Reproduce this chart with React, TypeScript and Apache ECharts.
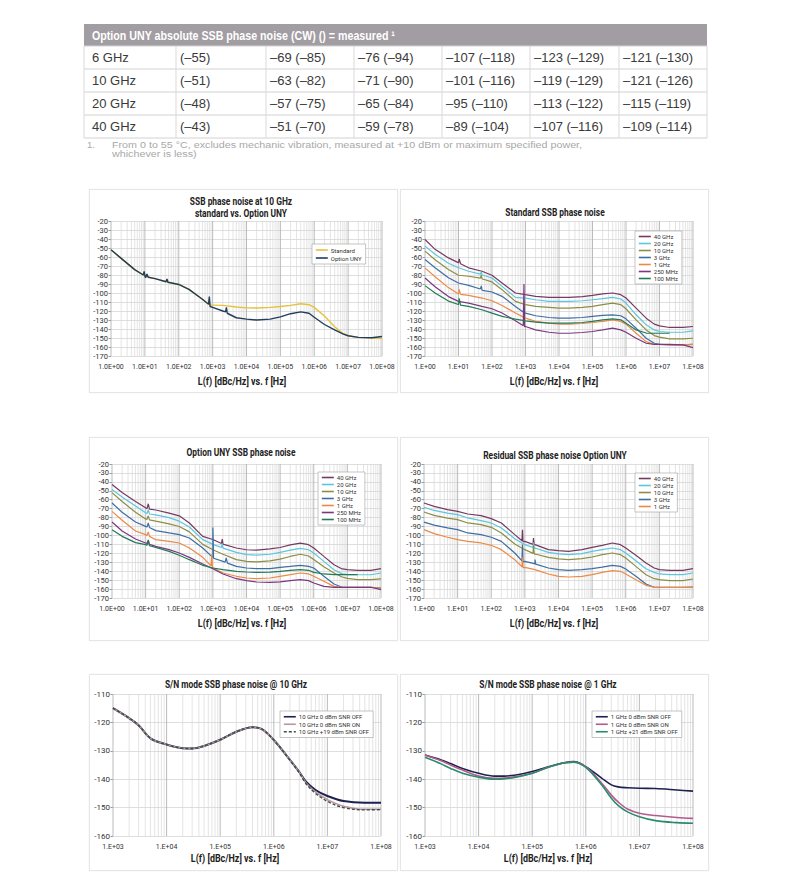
import React, { useEffect, useRef } from 'react';
import * as echarts from 'echarts';

// ---------- table data ----------
const tableTitle = 'Option UNY absolute SSB phase noise (CW) () = measured ¹';
const tableCarriers = ['6 GHz', '10 GHz', '20 GHz', '40 GHz'];
const tableValues = [
  ['(–55)', '–69 (–85)', '–76 (–94)', '–107 (–118)', '–123 (–129)', '–121 (–130)'],
  ['(–51)', '–63 (–82)', '–71 (–90)', '–101 (–116)', '–119 (–129)', '–121 (–126)'],
  ['(–48)', '–57 (–75)', '–65 (–84)', '–95 (–110)', '–113 (–122)', '–115 (–119)'],
  ['(–43)', '–51 (–70)', '–59 (–78)', '–89 (–104)', '–107 (–116)', '–109 (–114)'],
];
const footnoteNum = '1.';
const footnoteLines = [
  'From 0 to 55 °C, excludes mechanic vibration, measured at +10 dBm or maximum specified power,',
  'whichever is less)',
];

// ---------- chart texts ----------
const titles = [
  ['SSB phase noise at 10 GHz', 'standard vs. Option UNY'],
  ['Standard SSB phase noise'],
  ['Option UNY SSB phase noise'],
  ['Residual SSB phase noise Option UNY'],
  ['S/N mode SSB phase noise @ 10 GHz'],
  ['S/N mode SSB phase noise @ 1 GHz'],
];
const xAxisTitle = 'L(f) [dBc/Hz] vs. f [Hz]';
const carrierNames7 = ['40 GHz', '20 GHz', '10 GHz', '3 GHz', '1 GHz', '250 MHz', '100 MHz'];
const carrierNames5 = ['40 GHz', '20 GHz', '10 GHz', '3 GHz', '1 GHz'];
const sn10Names = ['10 GHz 0 dBm SNR OFF', '10 GHz 0 dBm SNR ON', '10 GHz +19 dBm SNR OFF'];
const sn1Names = ['1 GHz 0 dBm SNR OFF', '1 GHz 0 dBm SNR ON', '1 GHz +21 dBm SNR OFF'];

// ---------- frequency grids (Hz) ----------
const F = [1, 2, 5, 10, 20, 50, 100, 200, 500, 1e3, 2e3, 5e3, 1e4, 2e4, 5e4, 1e5, 2e5, 4e5, 7e5, 1e6, 2e6, 4e6, 7e6, 1e7, 2e7, 5e7, 1e8];
const F_SN = [1e3, 2e3, 3e3, 5e3, 1e4, 2e4, 3e4, 5e4, 1e5, 2e5, 4e5, 6e5, 1e6, 2e6, 3e6, 4e6, 6e6, 1e7, 2e7, 5e7, 1e8];

// ---------- chart 1: 10 GHz standard vs UNY ----------
const c1Standard = [-52, -61.5, -74, -81, -84, -88, -90.5, -96, -107, -113.5, -113.7, -115.5, -116.5, -116.7, -116, -115, -113.7, -112, -113, -116, -125.5, -137.5, -145, -147.5, -149.3, -150, -150.5];
const c1Uny = [-52, -61.5, -74, -81, -84, -88, -90.5, -96, -107, -116, -120, -127.5, -129, -130, -129, -126.5, -123, -121, -122.5, -127, -135, -141, -145.5, -147.5, -149.3, -149.7, -148.3];
const c1StandardSpikes = [[760, -112.5], [790, -107], [830, -113.5]];
const c1UnySpikes = [[9, -80], [9.5, -76], [10.5, -83], [11.5, -79], [12.5, -82.5], [42, -87.5], [45, -84.5], [48, -88], [760, -112.5], [800, -104], [840, -115], [2400, -121], [2550, -116], [2700, -122.5]];

// ---------- chart 2: standard SSB ----------
const s40 = [-40.5, -51.5, -61, -66.5, -72, -75.8, -80.3, -88.9, -100, -101.9, -103.7, -104.9, -104.9, -104.9, -104, -102.6, -101, -100, -101.9, -105.6, -116.8, -128, -134.6, -136.5, -138.3, -138.3, -137.2];
const s20 = [-47.9, -57, -67, -72, -75.8, -79.5, -83.3, -92.6, -104.9, -105.6, -107.5, -109.3, -109.3, -109.3, -108.6, -107.5, -106.3, -104.9, -106.7, -111.2, -124.2, -135.4, -141, -142.8, -143.6, -143.6, -142];
const s10 = [-53.5, -63, -74, -80.3, -81.4, -84, -87.7, -96.3, -109.3, -113, -114.9, -116, -116.8, -116.8, -116, -114.9, -113, -111.2, -113, -117.5, -129.8, -141, -147.3, -149.1, -151, -151, -150.3];
const s3 = [-62.8, -72, -83, -88.9, -91.5, -96.3, -98.9, -103.7, -114.9, -122.3, -125.3, -127.2, -127.9, -127.9, -127.2, -126, -124.9, -124.2, -125.3, -128.7, -139.1, -150.3, -155.8, -157, -157.7, -157.7, -157];
const s1 = [-72.1, -82, -94, -101.1, -102.6, -105.6, -108.6, -113.8, -122.3, -127.9, -131.6, -133.5, -134.6, -134.6, -133.9, -132.8, -131.6, -129.8, -131.6, -134.6, -144.7, -154, -157, -157, -157.7, -157.7, -157];
const s250 = [-83.3, -93, -104, -109.3, -111.2, -114.9, -117.5, -122.3, -130.9, -137.2, -141, -143.6, -144.7, -144.7, -143.9, -142.8, -141, -139.1, -141, -143.6, -150.3, -155.8, -157, -157, -157, -157.7, -160.7];
const s100 = [-91.8, -100, -109, -113, -114.9, -118.6, -122.3, -126, -129, -130.9, -132.4, -133.5, -133.5, -133.5, -132.8, -131.6, -129.8, -128.7, -129.8, -133.5, -141, -144.5, -144.7, -144.7, -144.7, null, null];
const s40Spikes = [[9.5, -66], [10.5, -62], [11.5, -67.5]];
const s20Spikes = [[45, -79], [48, -76.5], [52, -80]];
const s10Spikes = [[45, -83.5], [48, -80], [52, -84.5]];
const s3Spikes = [[45, -95.5], [48, -92], [52, -97], [850, -121], [900, -116], [950, -122]];
const s1Spikes = [[9.5, -100.5], [10.5, -96], [11.5, -101.5]];
const s250Spikes = [[860, -136.5], [900, -90], [940, -137.5]];
const s100Spikes = [[9.5, -112.5], [10.5, -106], [11.5, -113.5]];

// ---------- chart 3: Option UNY SSB ----------
const u40 = [-43, -52, -62, -69, -71.5, -75, -78, -86, -101, -104.5, -109.6, -114, -116, -116.5, -115, -113.5, -110.5, -108.5, -110.3, -114, -123.4, -132.7, -137.5, -138.3, -139, -139, -137.2];
const u20 = [-48.5, -57, -67, -74.5, -77, -80, -84, -90.5, -104.7, -110, -114, -119, -121.5, -122, -121, -119, -116.5, -114.5, -116, -119.6, -129, -138.3, -143, -143.9, -144, -144, -142];
const u10 = [-52, -62, -74, -81.5, -84, -87, -90, -96, -110, -116, -121, -127, -129, -129.5, -128.5, -126.5, -123.5, -121, -123, -127, -135, -142, -146.5, -148, -149.5, -149.5, -148.5];
const u3 = [-63.7, -74, -85, -89.8, -94.6, -97.2, -99.1, -102.8, -114, -124.5, -129, -134.6, -136.4, -137.2, -137.2, -135.7, -134.6, -133.4, -134.6, -136.4, -145.7, -154.3, -158, -158, -158, -158, -158.8];
const u1 = [-73, -83, -95, -99, -104.7, -106.6, -108.4, -114, -124.5, -136.4, -142, -145.7, -147.6, -148.4, -147.6, -145.7, -143.9, -142, -143.1, -145.7, -151.3, -157, -158, -158, -158, -158, -158.8];
const u250 = [-85, -95, -104, -108.4, -112.2, -115.9, -119.6, -124.5, -132, -137.2, -143.1, -148.4, -150.6, -152.1, -152.5, -152, -150.6, -149.5, -150.6, -153.2, -157, -158, -158, -158, -158, -158, -160.7];
const u100 = [-93.5, -101, -108, -110.3, -113.3, -117.8, -122.2, -127.1, -133.4, -136.4, -138.3, -140.1, -140.9, -141.3, -141, -140.1, -139, -138.3, -139, -141.3, -143.1, -143.9, -143.9, -143.9, -143.9, null, null];
const u40Spikes = [[11, -70], [12, -64.5], [13, -70.5], [1800, -109], [1900, -104], [2100, -110]];
const u20Spikes = [[11, -75.5], [12, -71], [13, -76], [1800, -113.5], [1900, -109], [2100, -114.5]];
const u10Spikes = [[11, -82], [12, -78], [13, -82.5]];
const u3Spikes = [[11, -90.5], [12, -86], [13, -91], [950, -124], [1000, -91], [1050, -125.5], [2300, -130], [2500, -125], [2700, -131]];
const u1Spikes = [[11, -100], [12, -96], [13, -101], [880, -134], [930, -121], [970, -136]];
const u250Spikes = [[11, -109], [12, -105], [13, -110]];
const u100Spikes = [[11, -111], [12, -106], [13, -111.5]];

// ---------- chart 4: residual SSB ----------
const r40 = [-63.7, -67.5, -71, -73, -76, -77.8, -81.2, -86, -99.1, -106.6, -110.3, -115.9, -117, -117.8, -115.9, -113.3, -111, -108.4, -110.3, -114, -122.2, -130.8, -136.4, -138.3, -139, -139, -137.2];
const r20 = [-68.5, -72, -75, -76.7, -80.4, -83.4, -86, -91.6, -103.6, -110.3, -114, -118.9, -120.7, -121.5, -120.4, -117.8, -115.9, -114, -115.9, -119.6, -128.2, -137.2, -141.3, -143.1, -143.9, -143.9, -142];
const r10 = [-73.7, -77.5, -80.5, -82.3, -86, -87.9, -90.9, -97.2, -109.6, -115.9, -120.7, -124.5, -126.3, -127.1, -126, -124.1, -121.5, -119.6, -121.5, -125.2, -134.6, -143.9, -148.4, -149.5, -150.6, -150.6, -148.7];
const r3 = [-85, -88.5, -91.5, -93.5, -97.2, -99.1, -102, -106.6, -119.6, -129, -131.9, -136.4, -138.3, -139, -138.3, -137.2, -135.4, -133.4, -134.6, -137.6, -145.7, -154.3, -158, -158, -158, -158, -157.7];
const r1 = [-93.5, -98, -102, -104.7, -106.6, -108.4, -111, -115.9, -127.1, -135.7, -138.3, -143.1, -145.7, -146.5, -145.7, -143.9, -141.3, -139.4, -140.1, -143.1, -149.5, -155.8, -158, -158, -158, -158, -158];
const r40Spikes = [[820, -106], [850, -93.5], [880, -107], [1750, -110], [1800, -103], [1900, -110.5]];
const r20Spikes = [[1750, -113.5], [1800, -108], [1900, -114.5]];
const r10Spikes = [[1750, -120], [1800, -111], [1900, -121]];
const r3Spikes = [[820, -128.5], [850, -110], [880, -129.5], [1900, -131.5], [2000, -127], [2100, -132]];
const r1Spikes = [[820, -135], [850, -124], [880, -136]];

// ---------- charts 5 & 6: S/N mode ----------
const sn10Off = [-115, -118.5, -121, -125.6, -127.8, -129.1, -129.2, -128.3, -126.1, -123.3, -121.7, -122.4, -126.2, -133.2, -137.5, -140.9, -143.8, -145.9, -147.7, -148.3, -148.3];
const sn10On = [-115, -118.5, -121, -125.6, -127.8, -129.1, -129.2, -128.3, -126.1, -123.3, -121.7, -122.4, -126.2, -133.2, -137.6, -141.3, -144.5, -147.2, -149.5, -150.6, -150.6];
const sn10P19 = [-115, -118.5, -121, -125.6, -127.8, -129.1, -129.2, -128.3, -126.1, -123.3, -121.7, -122.4, -126.2, -133.3, -137.8, -141.6, -145, -147.8, -150, -150.8, -150.7];
const sn1Off = [-131.5, -133.2, -134.5, -136.2, -137.9, -138.9, -138.9, -138.5, -137.3, -135.6, -134.2, -133.8, -135.6, -139.7, -142, -142.7, -143, -143.2, -143.3, -143.8, -144.2];
const sn1On = [-131.5, -133.5, -135, -136.8, -138.9, -139.7, -139.6, -139.1, -137.9, -135.8, -134.2, -134, -135.6, -141.5, -145.6, -148, -150.5, -152, -152.8, -153.5, -153.8];
const sn1P21 = [-132.3, -134.6, -136.2, -137.9, -139.3, -140, -139.9, -139.3, -137.9, -135.8, -134.2, -134, -135.8, -142.1, -146.7, -149.2, -151.5, -153.2, -154.6, -155.3, -155.5];

// ---------- styling ----------
const FONT = 'Roboto, "Liberation Sans", sans-serif';
const TFONT = '"Liberation Sans", Arial, sans-serif';
const COL = {
  std: '#e6c13c', uny: '#223d59',
  g40: '#763a62', g20: '#5cc6de', g10: '#8d8d45', g3: '#3f6ea3', g1: '#ec8a45', m250: '#7b3880', m100: '#237a57',
  snNavy: '#1d2050', snPinkGray: '#b9959f', snDash: '#3b4d47', snPink: '#b25c8e', snGreen: '#2a8c6c',
};

const GRIDS = [
  { left: 111, top: 221, width: 271, height: 135 },
  { left: 425, top: 221, width: 268, height: 135 },
  { left: 112, top: 464, width: 269, height: 134 },
  { left: 424, top: 464, width: 269, height: 134 },
  { left: 113, top: 694, width: 268, height: 142 },
  { left: 425, top: 694, width: 268, height: 142 },
];
const PANELS = [
  [89, 189, 309, 204], [400, 189, 309, 204],
  [89, 437, 309, 204], [400, 437, 309, 204],
  [89, 674, 309, 197], [400, 674, 309, 197],
];

function pairs(xs: number[], ys: (number | null)[], extra: number[][] = []) {
  const out: number[][] = [];
  xs.forEach((x, i) => { if (ys[i] != null) out.push([x, ys[i] as number]); });
  return out.concat(extra).sort((a, b) => a[0] - b[0]);
}

function gridLineData(e0: number, e1: number, yMin: number) {
  const out: number[][] = [];
  for (let e = e0; e < e1; e++) for (let m = 1; m < 10; m++) out.push([m * Math.pow(10, e), yMin, m === 1 ? 1 : 0]);
  out.push([Math.pow(10, e1), yMin, 1]);
  return out;
}

type SDef = { name: string; color: string; x: number[]; y: (number | null)[]; sp?: number[][]; w?: number; dash?: boolean };
type CDef = { e0: number; e1: number; yMin: number; yMax: number; fmt: string; smooth: number | boolean; series: SDef[]; legend: { left: number; top: number; names: string[]; lh: number } };

const CHARTS: CDef[] = [
  {
    e0: 0, e1: 8, yMin: -170, yMax: -20, fmt: '1.0E+', smooth: false,
    series: [
      { name: 'Standard', color: COL.std, x: F, y: c1Standard, sp: c1StandardSpikes, w: 1.4 },
      { name: 'Option UNY', color: COL.uny, x: F, y: c1Uny, sp: c1UnySpikes, w: 1.4 },
    ],
    legend: { left: 312, top: 244, names: ['Standard', 'Option UNY'], lh: 8 },
  },
  {
    e0: 0, e1: 8, yMin: -170, yMax: -20, fmt: '1.E+', smooth: false,
    series: [
      { name: '40 GHz', color: COL.g40, x: F, y: s40, sp: s40Spikes },
      { name: '20 GHz', color: COL.g20, x: F, y: s20, sp: s20Spikes },
      { name: '10 GHz', color: COL.g10, x: F, y: s10, sp: s10Spikes },
      { name: '3 GHz', color: COL.g3, x: F, y: s3, sp: s3Spikes },
      { name: '1 GHz', color: COL.g1, x: F, y: s1, sp: s1Spikes },
      { name: '250 MHz', color: COL.m250, x: F, y: s250, sp: s250Spikes },
      { name: '100 MHz', color: COL.m100, x: F, y: s100, sp: s100Spikes },
    ],
    legend: { left: 635, top: 231, names: carrierNames7, lh: 7 },
  },
  {
    e0: 0, e1: 8, yMin: -170, yMax: -20, fmt: '1.0E+', smooth: false,
    series: [
      { name: '40 GHz', color: COL.g40, x: F, y: u40, sp: u40Spikes },
      { name: '20 GHz', color: COL.g20, x: F, y: u20, sp: u20Spikes },
      { name: '10 GHz', color: COL.g10, x: F, y: u10, sp: u10Spikes },
      { name: '3 GHz', color: COL.g3, x: F, y: u3, sp: u3Spikes },
      { name: '1 GHz', color: COL.g1, x: F, y: u1, sp: u1Spikes },
      { name: '250 MHz', color: COL.m250, x: F, y: u250, sp: u250Spikes },
      { name: '100 MHz', color: COL.m100, x: F, y: u100, sp: u100Spikes },
    ],
    legend: { left: 318, top: 472, names: carrierNames7, lh: 7 },
  },
  {
    e0: 0, e1: 8, yMin: -170, yMax: -20, fmt: '1.E+', smooth: false,
    series: [
      { name: '40 GHz', color: COL.g40, x: F, y: r40, sp: r40Spikes },
      { name: '20 GHz', color: COL.g20, x: F, y: r20, sp: r20Spikes },
      { name: '10 GHz', color: COL.g10, x: F, y: r10, sp: r10Spikes },
      { name: '3 GHz', color: COL.g3, x: F, y: r3, sp: r3Spikes },
      { name: '1 GHz', color: COL.g1, x: F, y: r1, sp: r1Spikes },
    ],
    legend: { left: 635, top: 473, names: carrierNames5, lh: 7 },
  },
  {
    e0: 3, e1: 8, yMin: -160, yMax: -110, fmt: '1.E+', smooth: 0.35,
    series: [
      { name: sn10Names[0], color: COL.snNavy, x: F_SN, y: sn10Off, w: 2 },
      { name: sn10Names[1], color: COL.snPinkGray, x: F_SN, y: sn10On, w: 1.6 },
      { name: sn10Names[2], color: COL.snDash, x: F_SN, y: sn10P19, w: 1.4, dash: true },
    ],
    legend: { left: 280, top: 711, names: sn10Names, lh: 7.5 },
  },
  {
    e0: 3, e1: 8, yMin: -160, yMax: -110, fmt: '1.E+', smooth: 0.35,
    series: [
      { name: sn1Names[0], color: COL.snNavy, x: F_SN, y: sn1Off, w: 1.6 },
      { name: sn1Names[1], color: COL.snPink, x: F_SN, y: sn1On, w: 1.6 },
      { name: sn1Names[2], color: COL.snGreen, x: F_SN, y: sn1P21, w: 1.6 },
    ],
    legend: { left: 592, top: 711, names: sn1Names, lh: 7.5 },
  },
];

const TITLE_POS = [[241, 201], [555, 212], [241, 452], [555, 455], [236, 684], [548, 684]];
const AXTITLE_POS = [[242, 381], [554, 381], [242, 623], [554, 623], [235, 858], [548, 858]];

function text(t: string, x: number, y: number, o: any = {}) {
  return {
    type: 'text', x, y, scaleX: o.sx ?? 1, silent: true,
    style: {
      text: t, fill: o.fill ?? '#333', fontSize: o.size ?? 10, fontWeight: o.weight ?? 'normal',
      fontFamily: o.family ?? FONT, align: o.align ?? 'left', verticalAlign: 'middle',
      textAlign: o.align ?? 'left', textVerticalAlign: 'middle',
    },
  };
}

function buildGraphic() {
  const g: any[] = [];
  // table
  g.push({ type: 'rect', shape: { x: 84, y: 24, width: 623, height: 22 }, style: { fill: '#a29da2' }, silent: true });
  g.push(text(tableTitle, 92, 35.5, { fill: '#fff', size: 12, weight: 'bold', family: TFONT, sx: 0.89 }));
  const colStarts = [84, 176, 266, 354, 442, 530, 619];
  for (let r = 0; r <= 4; r++) {
    const y = 46 + 23 * r;
    g.push({ type: 'line', shape: { x1: 84, y1: y, x2: 707, y2: y }, style: { stroke: '#d2d2d2', lineWidth: 1 }, silent: true });
  }
  colStarts.concat([707]).forEach((x) => {
    g.push({ type: 'line', shape: { x1: x, y1: 46, x2: x, y2: 138 }, style: { stroke: '#d9d9d9', lineWidth: 1 }, silent: true });
  });
  tableCarriers.forEach((c, r) => {
    const y = 57.5 + 23 * r;
    g.push(text(c, 92, y, { size: 13, family: TFONT, fill: '#3a3a3a' }));
    tableValues[r].forEach((v, ci) => {
      g.push(text(v, colStarts[ci + 1] + 4, y, { size: 13, family: TFONT, fill: '#3a3a3a' }));
    });
  });
  g.push(text(footnoteNum, 87, 144.5, { size: 9.5, family: TFONT, fill: '#a8a8a8' }));
  footnoteLines.forEach((l, i) => g.push(text(l, 112, 144.5 + 9.5 * i, { size: 9.5, family: TFONT, fill: '#a8a8a8', sx: 1.13 })));
  // chart titles
  titles.forEach((lines, i) => {
    lines.forEach((l, j) => {
      g.push(text(l, TITLE_POS[i][0], TITLE_POS[i][1] + j * 12, { size: 10.5, weight: 'bold', align: 'center', fill: '#222', sx: 0.8 }));
    });
    g.push(text(xAxisTitle, AXTITLE_POS[i][0], AXTITLE_POS[i][1], { size: 10.5, weight: 'bold', align: 'center', fill: '#222', sx: 0.85 }));
  });
  return g;
}

function buildOption() {
  const grid: any[] = [];
  const xAxis: any[] = [];
  const yAxis: any[] = [];
  const series: any[] = [];
  const legend: any[] = [];
  CHARTS.forEach((c, i) => {
    grid.push({ ...GRIDS[i], containLabel: false });
    xAxis.push({
      type: 'log', logBase: 10, gridIndex: i, min: Math.pow(10, c.e0), max: Math.pow(10, c.e1), interval: 1,
      axisLine: { show: false }, axisTick: { show: false }, splitLine: { show: false },
      axisLabel: {
        interval: 0, fontSize: 7, color: '#333', fontFamily: FONT, margin: 7,
        formatter: (v: number) => { const e = Math.round(Math.log10(v)); return c.fmt + (e < 10 ? '0' : '') + e; },
      },
    });
    yAxis.push({
      type: 'value', gridIndex: i, min: c.yMin, max: c.yMax, interval: 10,
      axisLine: { show: false },
      axisTick: { show: true, length: 2.5, lineStyle: { color: '#999' } },
      axisLabel: { fontSize: i >= 4 ? 8 : 7.5, color: '#333', fontFamily: FONT, margin: 3 },
      splitLine: { lineStyle: { color: '#d6d6d6', width: 0.8 } },
    });
    series.push({
      type: 'custom', xAxisIndex: i, yAxisIndex: i, silent: true, z: 1,
      data: gridLineData(c.e0, c.e1, c.yMin),
      renderItem: (_p: any, api: any) => {
        const f = api.value(0);
        const a = api.coord([f, c.yMax]);
        const b = api.coord([f, c.yMin]);
        const major = api.value(2) === 1;
        return {
          type: 'line', silent: true,
          shape: { x1: a[0], y1: a[1], x2: b[0], y2: b[1] },
          style: { stroke: major ? '#b3b3b3' : '#d9d9d9', lineWidth: major ? 0.9 : 0.7 },
        };
      },
    });
    c.series.forEach((s) => {
      series.push({
        type: 'line', name: s.name, xAxisIndex: i, yAxisIndex: i, z: 2,
        symbol: 'none', showSymbol: false, smooth: c.smooth, clip: true,
        color: s.color,
        lineStyle: { color: s.color, width: s.w ?? 1.2, type: s.dash ? [3, 2] : 'solid' },
        itemStyle: { color: s.color },
        data: pairs(s.x, s.y, s.sp ?? []),
      });
    });
    legend.push({
      left: c.legend.left, top: c.legend.top, orient: 'vertical', data: c.legend.names,
      itemWidth: 12, itemHeight: 5, itemGap: 0, padding: [2, 4, 2, 3],
      backgroundColor: '#fff', borderColor: '#a0a0a0', borderWidth: 0.6,
      selectedMode: false,
      itemStyle: { opacity: 0, borderWidth: 0 },
      lineStyle: { width: 1.6 },
      textStyle: { fontSize: 6, lineHeight: c.legend.lh, height: c.legend.lh, color: '#333', fontFamily: FONT, padding: [0, 0, 0, -2] },
    });
  });
  return {
    animation: false,
    backgroundColor: 'transparent',
    grid, xAxis, yAxis, series, legend,
    graphic: { elements: buildGraphic() },
  };
}

export default function App() {
  const ref = useRef<HTMLDivElement>(null);
  useEffect(() => {
    const chart = echarts.init(ref.current as HTMLDivElement, null, { renderer: 'svg' });
    chart.setOption(buildOption() as any);
    return () => chart.dispose();
  }, []);
  return (
    <div style={{ position: 'absolute', left: 0, top: 0, width: 800, height: 886, background: '#fff', overflow: 'hidden' }}>
      {PANELS.map((p, i) => (
        <div key={i} style={{ position: 'absolute', left: p[0], top: p[1], width: p[2], height: p[3], border: '1px solid #e6e6e6', boxSizing: 'border-box', boxShadow: '0 0 2px rgba(0,0,0,0.05)' }} />
      ))}
      <div ref={ref} style={{ position: 'absolute', left: 0, top: 0, width: 800, height: 886 }} />
    </div>
  );
}
